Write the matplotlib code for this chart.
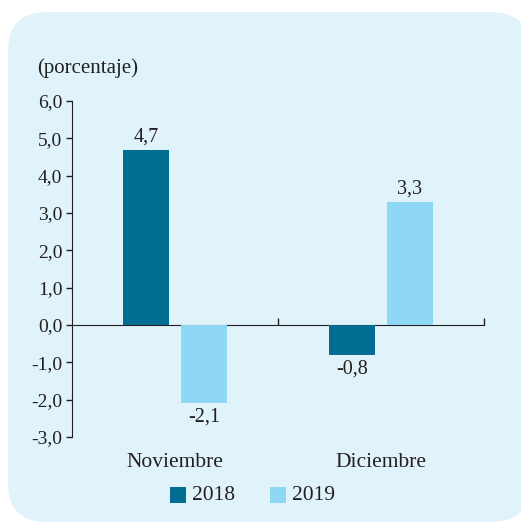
import matplotlib.pyplot as plt
import numpy as np
from matplotlib.patches import FancyBboxPatch, Rectangle
from matplotlib.ticker import FuncFormatter

categories = ["Noviembre", "Diciembre"]
series_names = ["2018", "2019"]
values_2018 = [4.7, -0.8]
values_2019 = [-2.1, 3.3]

dark = "#006d93"
light = "#8ed8f6"
card = "#e0f2fa"
txt = "#231f20"

plt.rcParams['font.family'] = ['Liberation Serif', 'DejaVu Serif']

fig = plt.figure(figsize=(5.21, 5.22), dpi=100)
W, H = 521, 522

# rounded background card
fig.patches.append(FancyBboxPatch((8 / W, 0.0), (530 - 8) / W, (510) / H,
                                  boxstyle="round,pad=0,rounding_size=0.075",
                                  transform=fig.transFigure, facecolor=card,
                                  edgecolor="none", zorder=-5))

ax = fig.add_axes([72 / W, 1 - 437 / H, (484 - 72) / W, (437 - 101) / H])
ax.set_facecolor("none")
ax.set_zorder(2)

x = np.arange(len(categories))
w = 0.225
off = 0.14
ax.bar(x - off, values_2018, w, color=dark, zorder=3)
ax.bar(x + off, values_2019, w, color=light, zorder=3)

for xi, v in zip(x - off, values_2018):
    ax.text(xi, v + (0.08 if v > 0 else -0.12), f"{v:.1f}".replace(".", ","),
            ha="center", va="bottom" if v > 0 else "top", fontsize=14.5, color=txt)
for xi, v in zip(x + off, values_2019):
    ax.text(xi, v + (0.08 if v > 0 else -0.12), f"{v:.1f}".replace(".", ","),
            ha="center", va="bottom" if v > 0 else "top", fontsize=14.5, color=txt)

ax.set_xlim(-0.5, 1.5)
ax.set_ylim(-3, 6)
ax.set_yticks(np.arange(-3, 7, 1))
ax.yaxis.set_major_formatter(FuncFormatter(lambda v, p: f"{v:.1f}".replace(".", ",")))
ax.tick_params(axis="y", direction="out", length=4, width=1, colors=txt, labelsize=14, pad=3)
ax.set_xticks([0.5, 1.5])
ax.set_xticklabels([])
ax.tick_params(axis="x", direction="in", length=5, width=1, colors=txt)

for s in ["top", "right"]:
    ax.spines[s].set_visible(False)
ax.spines["bottom"].set_position(("data", 0))
ax.spines["left"].set_color(txt)
ax.spines["bottom"].set_color(txt)

for xi, c in zip(x, categories):
    ax.text(xi, -3.42, c, ha="center", va="top", fontsize=15.5, color=txt)

fig.text(37 / W, 1 - 68 / H, "(porcentaje)", ha="left", va="center", fontsize=15, color=txt)

# legend
for lx, name, col in [(170, series_names[0], dark), (270, series_names[1], light)]:
    fig.patches.append(Rectangle((lx / W, 1 - 503 / H), 16 / W, 16 / H,
                                 transform=fig.transFigure, facecolor=col, edgecolor="none"))
    fig.text((lx + 22) / W, 1 - 495 / H, name, ha="left", va="center", fontsize=15.5, color=txt)

fig.savefig("out.png", dpi=100, facecolor="white")
